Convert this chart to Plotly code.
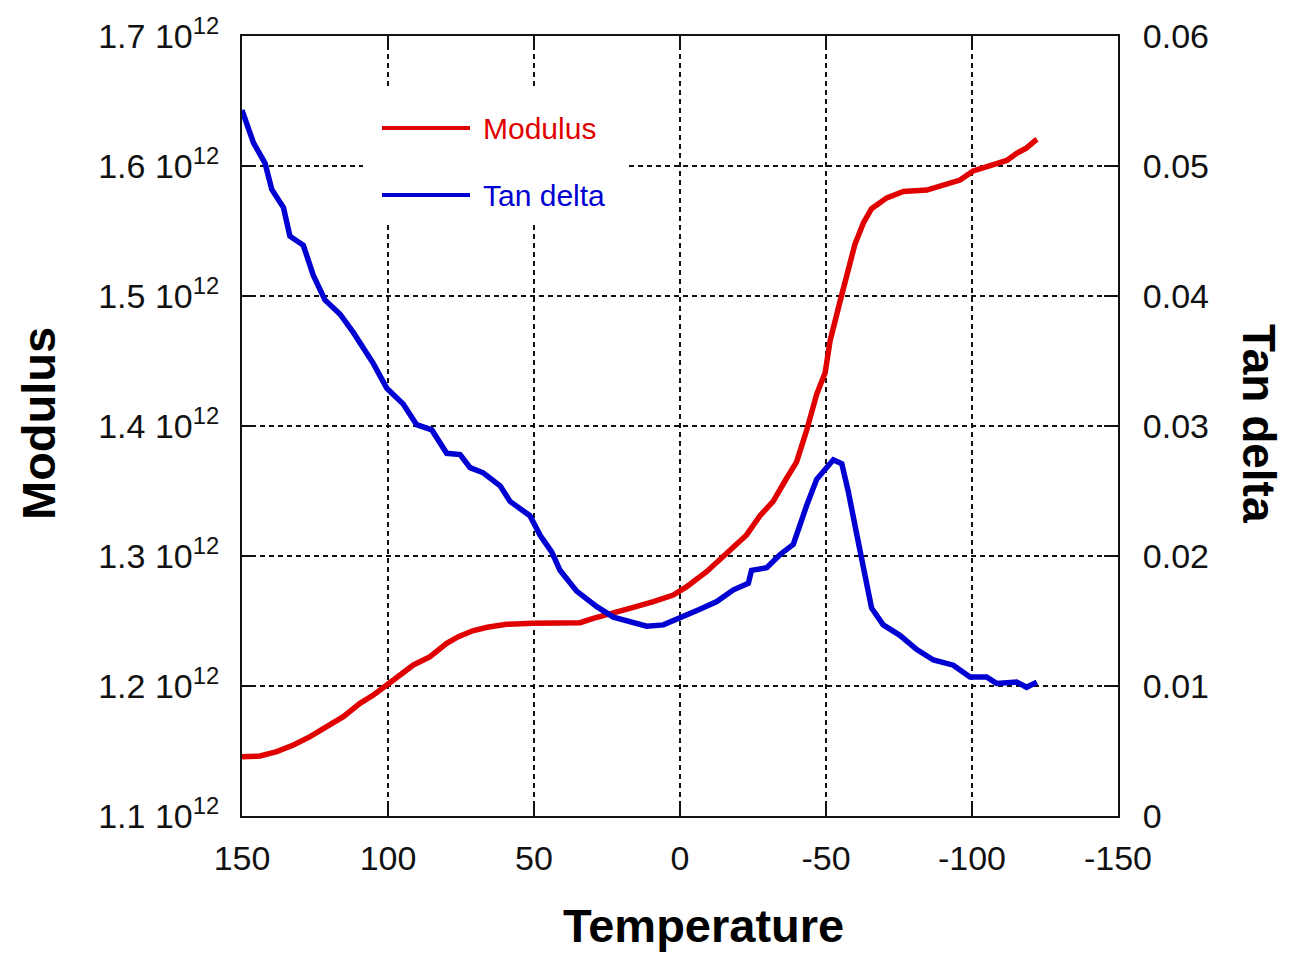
import plotly.graph_objects as go

# ---------------- data ----------------
temp_modulus = [150, 143.8, 138.1, 132.4, 126.7, 121.0, 115.3, 109.6, 105.0, 100.4,
                95.9, 91.3, 85.6, 79.9, 75.9, 71.0, 66.0, 59.4, 50.2, 42.0,
                34.2, 29.7, 22.8, 16.0, 9.1, 2.3, -2.3, -9.1, -16.0, -20.5,
                -22.8, -27.4, -31.9, -36.5, -39.9, -43.4, -46.8, -49.7, -51.4, -54.8,
                -57.6, -59.9, -62.8, -65.6, -70.8, -76.5, -84.5, -91.3, -95.9, -100.4,
                -107.3, -111.9, -115.3, -118.7, -121.6, -122.3]
modulus_e12 = [1.1455, 1.1462, 1.1495, 1.1546, 1.1610, 1.1692, 1.1764, 1.1867, 1.1931, 1.2008,
               1.2085, 1.2162, 1.2225, 1.2328, 1.2379, 1.2425, 1.2452, 1.2475, 1.2482, 1.2484,
               1.2487, 1.2521, 1.2559, 1.2605, 1.2649, 1.2700, 1.2764, 1.2879, 1.3021, 1.3110,
               1.3162, 1.3310, 1.3420, 1.3598, 1.3722, 1.3969, 1.4244, 1.4409, 1.4656, 1.4958,
               1.5205, 1.5398, 1.5562, 1.5672, 1.5755, 1.5804, 1.5815, 1.5865, 1.5892, 1.5962,
               1.6016, 1.6043, 1.6098, 1.6139, 1.6195, 1.6205]

temp_tan = [150, 146.1, 142.1, 139.8, 135.8, 133.6, 129.0, 125.6, 121.6, 116.4,
            111.9, 107.9, 105.0, 100.4, 94.8, 90.2, 85.0, 79.9, 75.3, 71.9,
            67.4, 61.6, 58.2, 51.4, 47.9, 43.9, 41.1, 35.4, 28.5, 22.8,
            17.1, 11.4, 5.7, 0.0, -6.8, -12.6, -18.3, -23.4, -24.5, -29.7,
            -34.2, -38.8, -41.1, -43.4, -46.8, -50.2, -52.5, -55.4, -57.6, -60.5,
            -63.4, -65.6, -69.6, -75.3, -81.1, -86.8, -93.6, -99.3, -105.0, -108.4,
            -115.3, -118.7, -122.2]
tan_delta = [0.0543, 0.0518, 0.0502, 0.0482, 0.0468, 0.0446, 0.0439, 0.0416, 0.0397, 0.0386,
             0.0372, 0.0359, 0.0348, 0.0329, 0.0317, 0.0301, 0.0297, 0.0279, 0.0278, 0.0268,
             0.0264, 0.0254, 0.0242, 0.0231, 0.0216, 0.0203, 0.0189, 0.0173, 0.0161, 0.0153,
             0.0150, 0.0146, 0.0147, 0.0152, 0.0159, 0.0165, 0.0174, 0.0179, 0.0189, 0.0191,
             0.0201, 0.0209, 0.0225, 0.0239, 0.0259, 0.0268, 0.0274, 0.0271, 0.0250, 0.0217,
             0.0184, 0.0160, 0.0147, 0.0139, 0.0128, 0.0120, 0.0116, 0.0107, 0.0107, 0.0102,
             0.0103, 0.0099, 0.0103]

x_ticks = [150, 100, 50, 0, -50, -100, -150]
x_ticktext = ["150", "100", "50", "0", "-50", "-100", "-150"]
y_ticks = [1.1, 1.2, 1.3, 1.4, 1.5, 1.6, 1.7]
y_ticktext = ["1.1 10<sup>12</sup>", "1.2 10<sup>12</sup>", "1.3 10<sup>12</sup>",
              "1.4 10<sup>12</sup>", "1.5 10<sup>12</sup>", "1.6 10<sup>12</sup>",
              "1.7 10<sup>12</sup>"]
y2_ticks = [0, 0.01, 0.02, 0.03, 0.04, 0.05, 0.06]
y2_ticktext = ["0", "0.01", "0.02", "0.03", "0.04", "0.05", "0.06"]

# ---------------- styling ----------------
PAGE_W, PAGE_H = 1289, 953
BODY = 8                       # default page margin of the html body
W, H = PAGE_W - BODY, PAGE_H - BODY
L, R, T, B = 242, 1118, 36, 816  # plot area in page pixels
RED = "#e00000"
BLUE = "#0000d2"
FONT = "Liberation Sans, Arial, sans-serif"


def px(xp):
    return (xp - L) / (R - L)


def py(yp):
    return (B - yp) / (B - T)


fig = go.Figure()
fig.add_trace(go.Scatter(x=temp_modulus, y=modulus_e12, mode="lines", name="Modulus",
                         line=dict(color=RED, width=5.5), yaxis="y"))
fig.add_trace(go.Scatter(x=temp_tan, y=tan_delta, mode="lines", name="Tan delta",
                         line=dict(color=BLUE, width=5.5), yaxis="y2"))

axis_common = dict(
    ticks="inside", ticklen=14, tickwidth=2, tickcolor="#111",
    showline=True, linewidth=2, linecolor="#111",
    tickfont=dict(family=FONT, size=34, color="#111"),
    zeroline=False, fixedrange=True, automargin=False,
)

fig.update_layout(
    width=W, height=H,
    margin=dict(l=L - BODY, r=PAGE_W - R, t=T - BODY, b=PAGE_H - B, pad=0,
                autoexpand=False),
    paper_bgcolor="white", plot_bgcolor="white",
    showlegend=False,
    xaxis=dict(range=[150, -150], tickmode="array", tickvals=x_ticks, ticktext=x_ticktext,
               mirror="ticks", showgrid=True, gridcolor="#111", gridwidth=2,
               griddash="5px,4px", ticklabelstandoff=11, **axis_common),
    yaxis=dict(range=[1.1, 1.7], tickmode="array", tickvals=y_ticks, ticktext=y_ticktext,
               mirror="ticks", showgrid=True, gridcolor="#111", gridwidth=2,
               griddash="5px,4px", ticklabelstandoff=14, **axis_common),
    yaxis2=dict(range=[0, 0.06], tickmode="array", tickvals=y2_ticks, ticktext=y2_ticktext,
                overlaying="y", side="right", showgrid=False,
                ticklabelstandoff=16, **axis_common),
)

# legend box (white, hides the grid) with long line samples
fig.add_shape(type="rect", xref="paper", yref="paper",
              x0=px(363), x1=px(628), y0=py(225), y1=py(90),
              fillcolor="white", line=dict(width=0), layer="above")
for yl, col in [(128, RED), (195, BLUE)]:
    fig.add_shape(type="line", xref="paper", yref="paper",
                  x0=px(382), x1=px(470), y0=py(yl), y1=py(yl),
                  line=dict(color=col, width=4), layer="above")
for yl, col, txt in [(128, RED, "Modulus"), (195, BLUE, "Tan delta")]:
    fig.add_annotation(text=txt, xref="paper", yref="paper", x=px(481), y=py(yl),
                       xanchor="left", yanchor="middle", showarrow=False,
                       font=dict(family=FONT, size=30, color=col))

# axis titles
fig.add_annotation(text="Temperature", xref="paper", yref="paper", x=px(703), y=py(925),
                   xanchor="center", yanchor="middle", showarrow=False,
                   font=dict(family=FONT, size=47, color="#000", weight="bold"))
fig.add_annotation(text="Modulus", xref="paper", yref="paper", x=px(38), y=py(424),
                   xanchor="center", yanchor="middle", showarrow=False, textangle=-90,
                   font=dict(family=FONT, size=47, color="#000", weight="bold"))
fig.add_annotation(text="Tan delta", xref="paper", yref="paper", x=px(1259), y=py(423),
                   xanchor="center", yanchor="middle", showarrow=False, textangle=90,
                   font=dict(family=FONT, size=46, color="#000", weight="bold"))

fig.write_html("out.html")
